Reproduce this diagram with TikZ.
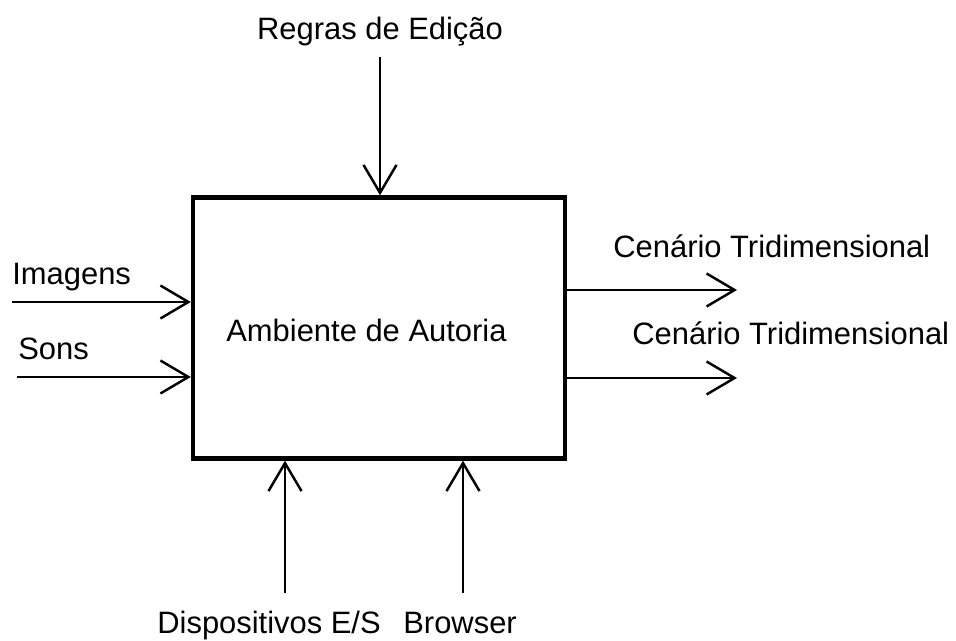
\documentclass[tikz,border=0pt]{standalone}
\usepackage{fontspec}
\setmainfont{Liberation Sans}
\usetikzlibrary{arrows.meta}

\begin{document}
\begin{tikzpicture}
[x=0.02cm,y=-0.02cm,
every node/.style={font=\fontsize{17.6}{20}\selectfont,inner sep=0pt},
caixa/.style={draw,line width=2.5pt,minimum width=7.44cm,minimum height=5.22cm},
seta/.style={line width=1.4pt,-{Straight Barb[length=0.56cm,width=0.66cm,line width=1.4pt]}}]

\useasboundingbox (0,0) rectangle (956,641);

\node[caixa] (ambiente) at (379,328) {};
\node[anchor=base west] (rotulo) at (226,342) {Ambiente de Autoria};

% entradas e saidas
\node[anchor=base] (regras) at (380,40) {Regras de Edição};
\node[anchor=base west] (imagens) at (12,285) {Imagens};
\node[anchor=base west] (sons) at (18,360) {Sons};
\node[anchor=base west] (cenario1) at (613,258) {Cenário Tridimensional};
\node[anchor=base west] (cenario2) at (632,345) {Cenário Tridimensional};
\node[anchor=base west] (dispositivos) at (157,633) {Dispositivos E/S};
\node[anchor=base west] (browser) at (403,633) {Browser};

\coordinate (regrasini) at (380,57);
\coordinate (imgini) at (12,302);
\coordinate (sonsini) at (17,377);
\coordinate (saida1) at (737,290);
\coordinate (saida2) at (737,378);
\coordinate (dispini) at (285,593);
\coordinate (browini) at (463,593);

\draw[seta] (regrasini) -- (regrasini |- ambiente.north);
\draw[seta] (imgini) -- (imgini -| ambiente.west);
\draw[seta] (sonsini) -- (sonsini -| ambiente.west);
\draw[seta] (saida1 -| ambiente.east) -- (saida1);
\draw[seta] (saida2 -| ambiente.east) -- (saida2);
\draw[seta] (dispini) -- (dispini |- ambiente.south);
\draw[seta] (browini) -- (browini |- ambiente.south);
\end{tikzpicture}
\end{document}
